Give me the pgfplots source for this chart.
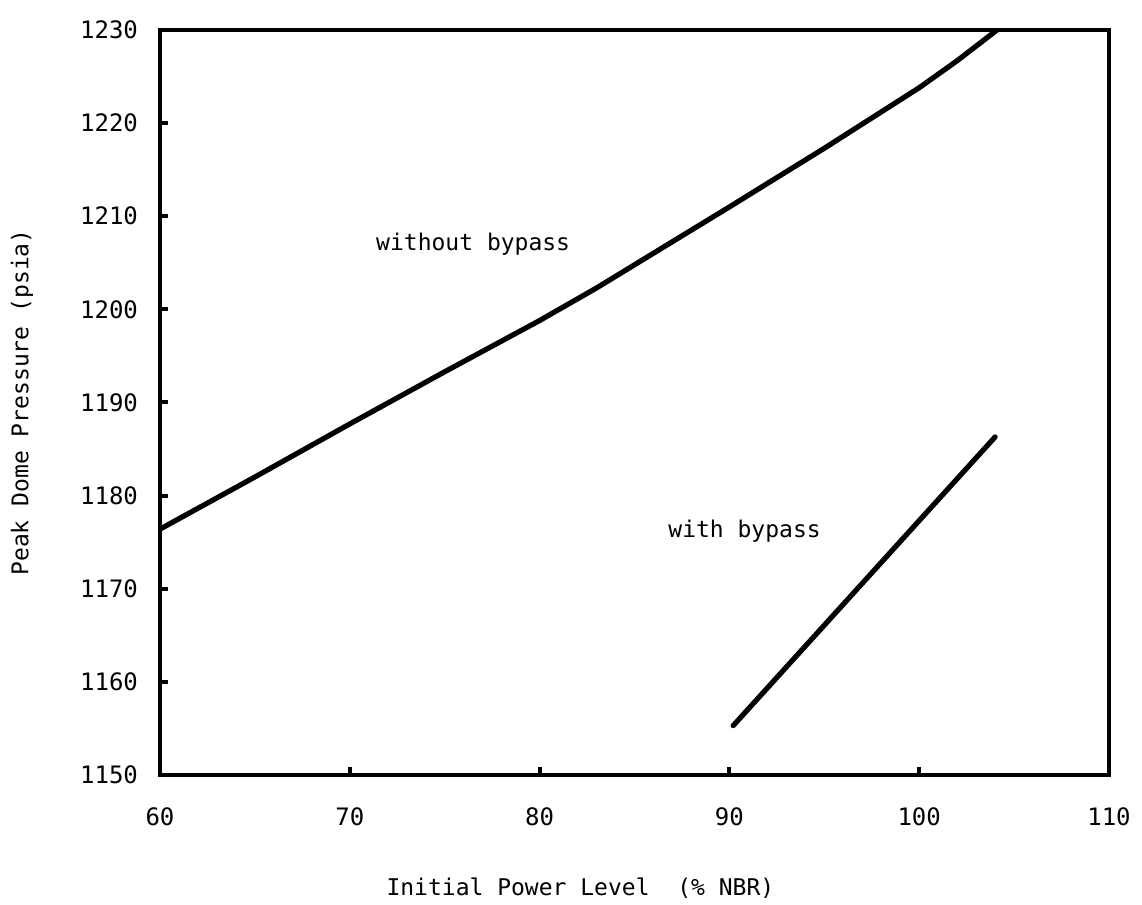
\documentclass[border=0pt]{standalone}
\usepackage{fontspec}
\setmainfont{DejaVu Sans Mono}
\usepackage{pgfplots}
\pgfplotsset{compat=1.18}
\begin{document}
\begin{tikzpicture}
\begin{axis}[name=ax, at={(0,0)}, anchor=south west,
  width=474.5pt, height=372.5pt, scale only axis,
  xmin=60, xmax=110, ymin=1150, ymax=1230,
  xtick={60,70,...,110}, ytick={1150,1160,...,1230},
  tick align=inside, tick pos=left, major tick length=4pt,
  every tick/.style={black, line width=2pt},
  axis line style={line width=2.2pt},
  /pgf/number format/assume math mode=true,
  /pgf/number format/set thousands separator={},
  ticklabel style={font=\fontsize{12}{14}\selectfont},
  xticklabel style={yshift=-13pt},
  yticklabel style={xshift=-7.5pt},
  xlabel={Initial Power Level\ \ (\% NBR)},
  xlabel style={at={(axis description cs:0.443,-0.1517)}, anchor=center, font=\fontsize{11.5}{13}\selectfont},
  ylabel={Peak Dome Pressure (psia)},
  ylabel style={at={(axis description cs:-0.1454,0.5)}, anchor=center, rotate=0, font=\fontsize{11.5}{13}\selectfont},
]
\addplot[black, line width=2.6pt, line join=round] coordinates {
(60,1176.4) (65,1182.0) (70,1187.7) (75,1193.3) (80,1198.8) (83,1202.3) (90,1211.0) (95,1217.3) (100,1223.8) (102,1226.7) (104.1,1230)
};
\addplot[black, line width=2.6pt, line cap=round] coordinates {
(90.2,1155.3) (104.0,1186.3)
};
\node[font=\fontsize{11.5}{13}\selectfont] at (axis cs:76.5,1207) {without bypass};
\node[font=\fontsize{11.5}{13}\selectfont] at (axis cs:90.8,1176.2) {with bypass};
\end{axis}
\path (ax.south west) ++(-80pt,-64pt) rectangle ++(571pt,451.5pt);
\end{tikzpicture}
\end{document}
